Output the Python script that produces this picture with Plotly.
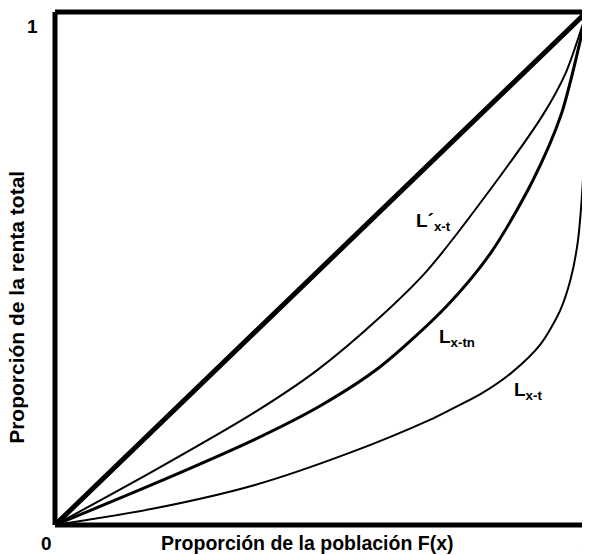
import plotly.graph_objects as go

# Lorenz curves (population share, income share)
p_equal = [0, 1]
L_equal = [0, 1]

p_lprime = [0, 0.188, 0.376, 0.492, 0.611, 0.70, 0.818, 0.918, 0.96, 1.0]
L_lprime = [0, 0.107, 0.220, 0.301, 0.405, 0.496, 0.653, 0.800, 0.880, 1.0]

p_ltn = [0, 0.188, 0.376, 0.50, 0.611, 0.736, 0.820, 0.898, 0.952, 1.0]
L_ltn = [0, 0.081, 0.167, 0.233, 0.308, 0.426, 0.531, 0.670, 0.800, 1.0]

p_lt = [0, 0.188, 0.376, 0.555, 0.705, 0.742, 0.80, 0.86, 0.913, 0.950, 0.970, 0.983, 0.991, 0.996, 0.999, 1.0]
L_lt = [0, 0.0325, 0.078, 0.141, 0.205, 0.224, 0.255, 0.298, 0.352, 0.418, 0.480, 0.550, 0.640, 0.740, 0.850, 1.0]

font = "Arial"
XMAX = 1.01  # box extends slightly past the (1,1) corner, as in the picture

fig = go.Figure()
fig.add_trace(go.Scatter(x=p_equal, y=L_equal, mode="lines",
                         line=dict(color="black", width=5)))
for px, py, w in [(p_lprime, L_lprime, 2), (p_ltn, L_ltn, 3), (p_lt, L_lt, 2)]:
    fig.add_trace(go.Scatter(x=px, y=py, mode="lines",
                             line=dict(color="black", width=w, shape="spline", smoothing=0.8)))

# box (left, top, bottom)
for (x0, y0, x1, y1) in [(0, 0, 0, 1), (0, 1, 1, 1), (0, 0, 1, 0)]:
    fig.add_shape(type="line", xref="paper", yref="paper",
                  x0=x0, y0=y0, x1=x1, y1=y1,
                  line=dict(color="black", width=5))

ann_font = dict(family=font, size=19, color="black")
labels = [
    (0.675, 0.59, "<b>L´<sub>x-t</sub></b>"),
    (0.718, 0.365, "<b>L<sub>x-tn</sub></b>"),
    (0.86, 0.262, "<b>L<sub>x-t</sub></b>"),
]
for x, y, t in labels:
    fig.add_annotation(x=x, y=y, xref="x", yref="y", text=t, showarrow=False,
                       font=ann_font, xanchor="left", yanchor="middle")

tick_font = dict(family=font, size=19, color="black")
fig.add_annotation(x=-0.041, y=0.971, xref="paper", yref="paper", text="<b>1</b>",
                   showarrow=False, font=tick_font, xanchor="center", yanchor="middle")
fig.add_annotation(x=-0.015, y=-0.037, xref="paper", yref="paper", text="<b>0</b>",
                   showarrow=False, font=tick_font, xanchor="center", yanchor="middle")
fig.add_annotation(x=1.0, y=-0.051, xref="x", yref="paper", text="<b>1</b>",
                   showarrow=False, font=tick_font, xanchor="center", yanchor="middle")

# axis titles
fig.add_annotation(x=0.47, y=-0.036, xref="paper", yref="paper",
                   text="<b>Proporción de la población F(x)</b>", showarrow=False,
                   font=dict(family=font, size=19.5, color="black"),
                   xanchor="center", yanchor="middle")
fig.add_annotation(x=-0.071, y=0.425, xref="paper", yref="paper",
                   text="<b>Proporción de la renta total</b>", showarrow=False,
                   textangle=-90,
                   font=dict(family=font, size=21, color="black"),
                   xanchor="center", yanchor="middle")

fig.update_layout(
    width=590, height=555,
    margin=dict(l=47, r=6, t=4, b=38, autoexpand=False),
    paper_bgcolor="white", plot_bgcolor="white",
    showlegend=False,
    xaxis=dict(range=[0, XMAX], showgrid=False, zeroline=False, showticklabels=False,
               ticks="", showline=False, automargin=False),
    yaxis=dict(range=[0, 1], showgrid=False, zeroline=False, showticklabels=False,
               ticks="", showline=False, automargin=False),
)

fig.write_html("out.html")
